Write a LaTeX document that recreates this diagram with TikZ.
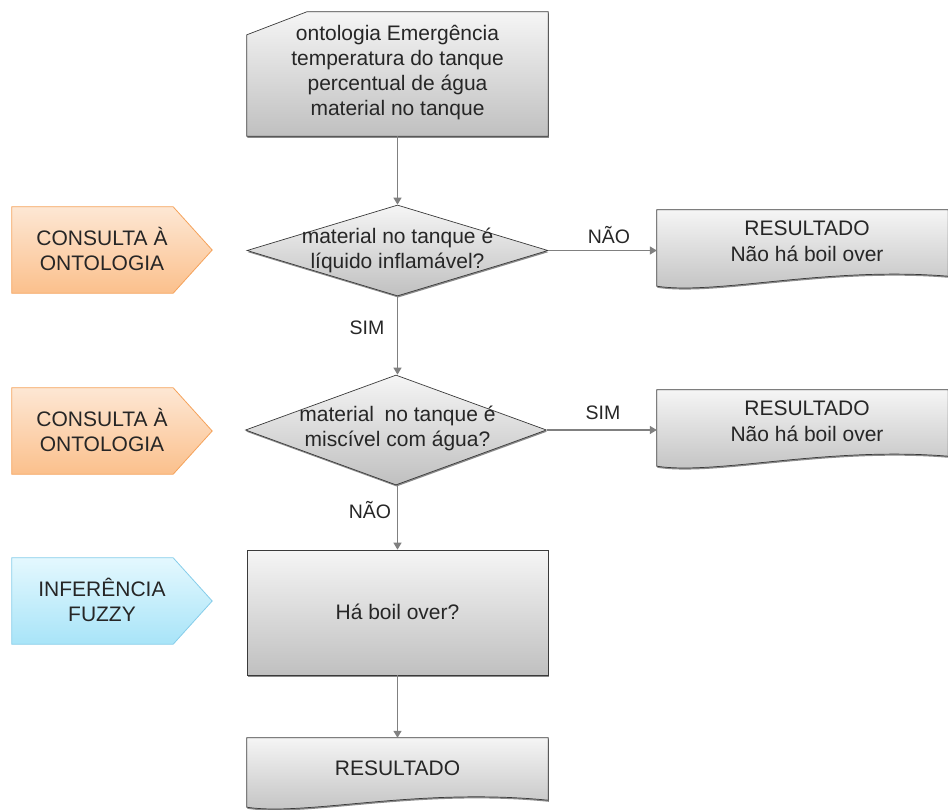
\documentclass[tikz,border=0pt]{standalone}
\usepackage{fontspec}
\setmainfont{Liberation Sans}
\usetikzlibrary{shapes.geometric,arrows.meta,calc,shadows,backgrounds}

\definecolor{boxtop}{HTML}{F5F5F5}
\definecolor{boxbot}{HTML}{C0C0C0}
\definecolor{boxline}{HTML}{3A3A3A}
\definecolor{flow}{HTML}{808080}
\definecolor{orgtop}{HTML}{FDE7D4}
\definecolor{orgbot}{HTML}{FBC08C}
\definecolor{orgline}{HTML}{F5A25A}
\definecolor{blutop}{HTML}{E4F8FE}
\definecolor{blubot}{HTML}{A8E4F8}
\definecolor{bluline}{HTML}{86CDEA}

% outline of a "document" box with a wavy lower edge
\newcommand{\docshape}[2]{%
  \path[greybox] (#1.north west) -- (#1.north east)
    -- ($(#1.south east)+(0,-#2)$)
    .. controls ($(#1.south west)+(170,-20)$) and ($(#1.south west)+(60,9)$) .. (#1.south west)
    -- cycle;}
% outline of a side tag pointing right
\newcommand{\tagshape}[2]{%
  \path[#2] (#1.north west) -- ($(#1.north east)+(-39,0)$) -- (#1.east)
    -- ($(#1.south east)+(-39,0)$) -- (#1.south west) -- cycle;}

\begin{document}
\begin{tikzpicture}[x=1pt,y=-1pt,
  txt/.style={font=\fontsize{21}{25}\selectfont, align=center, text=black!85, inner sep=0pt},
  lbl/.style={font=\fontsize{19.5}{23}\selectfont, text=black!85, inner sep=0pt},
  slot/.style={draw=none, inner sep=0pt, rectangle},
  shadowed/.style={drop shadow={shadow xshift=0.6pt, shadow yshift=-1.6pt, fill=black!65, opacity=0.7}},
  greybox/.style={draw=boxline, line width=0.7pt, top color=boxtop, bottom color=boxbot, shadowed},
  decision/.style={shape=diamond, inner sep=0pt, greybox},
  orangetag/.style={draw=orgline, line width=0.8pt, top color=orgtop, bottom color=orgbot},
  bluetag/.style={draw=bluline, line width=0.8pt, top color=blutop, bottom color=blubot},
  flowline/.style={draw=flow, line width=1.3pt, -{Triangle[width=8pt,length=7pt]}},
]
\useasboundingbox (0,0) rectangle (948,809);

% ---- main column ----
\node[slot, minimum width=301pt, minimum height=124pt] (inp) at (397.5,74) {};
\node[txt] (inpt) at (397.5,72.5) {ontologia Emergência\\temperatura do tanque\\percentual de água\\material no tanque};

\node[decision, minimum width=301pt, minimum height=91pt] (q1) at (397.5,250.5) {};
\node[txt] (q1t) at (397.5,250.5) {material no tanque é\\líquido inflamável?};

\node[decision, minimum width=301pt, minimum height=110pt] (q2) at (396,430) {};
\node[txt] (q2t) at (397.5,428.5) {material\enspace no tanque é\\miscível com água?};

\node[rectangle, greybox, minimum width=301pt, minimum height=125pt] (fz) at (397.5,612.5) {};
\node[txt] (fzt) at (397.5,612) {Há boil over?};

\node[slot, minimum width=301pt, minimum height=69pt] (fin) at (397.5,772.5) {};
\node[txt] (fint) at (397.5,768) {RESULTADO};

% ---- results on the right ----
\node[slot, minimum width=291pt, minimum height=76pt] (r1) at (802.5,248) {};
\node[txt] (r1t) at (807,241.5) {RESULTADO\\[1pt]Não há boil over};

\node[slot, minimum width=291pt, minimum height=76pt] (r2) at (802.5,428) {};
\node[txt] (r2t) at (807,421) {RESULTADO\\[1pt]Não há boil over};

% ---- side tags ----
\node[slot, minimum width=200pt, minimum height=86pt] (tg1) at (112,250) {};
\node[txt] (tg1t) at (102,249) {CONSULTA À\\ONTOLOGIA};
\node[slot, minimum width=200pt, minimum height=86pt] (tg2) at (112,431) {};
\node[txt] (tg2t) at (102,430) {CONSULTA À\\ONTOLOGIA};
\node[slot, minimum width=200pt, minimum height=86pt] (tg3) at (112,601) {};
\node[txt] (tg3t) at (102,600) {INFERÊNCIA\\FUZZY};

% ---- outlines behind the texts ----
\begin{scope}[on background layer]
  \path[greybox] ($(inp.north west)+(0,23)$) -- ($(inp.north west)+(60,0)$)
    -- (inp.north east) -- (inp.south east) -- (inp.south west) -- cycle;
  \docshape{r1}{10}
  \docshape{r2}{10}
  \docshape{fin}{7}
  \tagshape{tg1}{orangetag}
  \tagshape{tg2}{orangetag}
  \tagshape{tg3}{bluetag}
\end{scope}

% ---- connectors ----
\draw[flowline] (inp.south) -- (q1.north);
\draw[flowline] (q1.east) -- (q1.east -| r1.west);
\draw[flowline] (q1.south) -- (q2.north -| q1.south);
\draw[flowline] (q2.east) -- (q2.east -| r2.west);
\draw[flowline] (q2.south -| fz.north) -- (fz.north);
\draw[flowline] (fz.south) -- (fin.north);

% ---- branch labels ----
\node[lbl] (l1) at (609,235) {NÃO};
\node[lbl] (l2) at (367,328) {SIM};
\node[lbl] (l3) at (603,413) {SIM};
\node[lbl] (l4) at (370,510) {NÃO};
\end{tikzpicture}
\end{document}
